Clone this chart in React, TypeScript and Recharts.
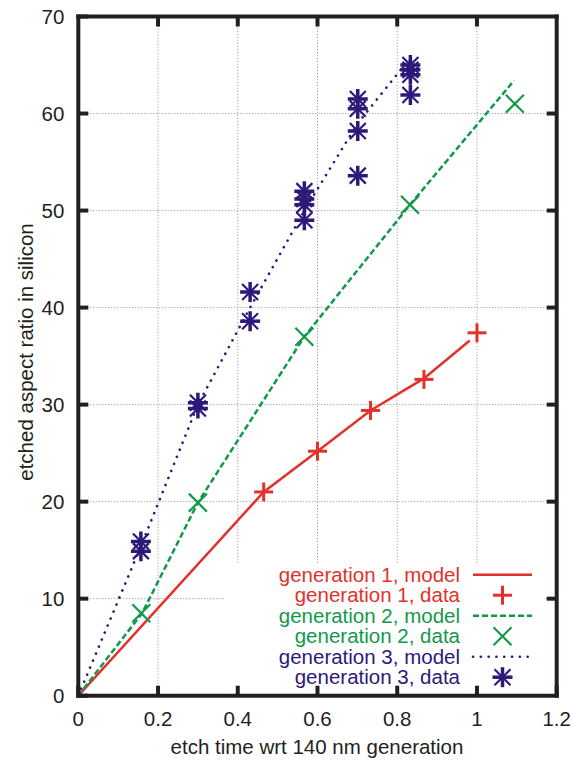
import React from 'react';
import { ComposedChart, Line, Scatter, XAxis, YAxis, ReferenceLine } from 'recharts';

const RED = '#e2312a';
const GREEN = '#11994a';
const BLUE = '#2d1979';
const INK = '#231f20';
const FONT = '"Liberation Sans", Arial, sans-serif';
const FS = 20.5;

const xTicks = [0, 0.2, 0.4, 0.6, 0.8, 1, 1.2];
const yTicks = [0, 10, 20, 30, 40, 50, 60, 70];
const gridX = [0.2, 0.4, 0.6, 0.8, 1];
const gridY = [10, 20, 30, 40, 50, 60];

// key box (in data units) hides the grid behind it
const keyLeft = 0.369;
const keyRight = 1.172;
const keyTop = 13.7;

const gen1Model = [
  { x: 0, y: 0 },
  { x: 0.465, y: 21 },
  { x: 0.6, y: 25.2 },
  { x: 0.733, y: 29.4 },
  { x: 0.867, y: 32.7 },
  { x: 0.982, y: 36.6 },
];
const gen1Data = [
  { x: 0.465, y: 21 },
  { x: 0.6, y: 25.2 },
  { x: 0.733, y: 29.4 },
  { x: 0.867, y: 32.6 },
  { x: 1.0, y: 37.4 },
];
const gen2Model = [
  { x: 0, y: 0 },
  { x: 0.16, y: 8.5 },
  { x: 0.3, y: 19.9 },
  { x: 0.567, y: 37 },
  { x: 0.832, y: 50.6 },
  { x: 1.093, y: 63.4 },
];
const gen2Data = [
  { x: 0.158, y: 8.5 },
  { x: 0.3, y: 19.9 },
  { x: 0.567, y: 37 },
  { x: 0.832, y: 50.6 },
  { x: 1.095, y: 61.0 },
];
const gen3Model = [
  { x: 0, y: 0 },
  { x: 0.157, y: 15.4 },
  { x: 0.3, y: 30 },
  { x: 0.431, y: 40 },
  { x: 0.567, y: 50 },
  { x: 0.701, y: 59 },
  { x: 0.83, y: 65.6 },
];
const gen3Data = [
  { x: 0.157, y: 15.9 },
  { x: 0.157, y: 14.9 },
  { x: 0.3, y: 30.2 },
  { x: 0.3, y: 29.6 },
  { x: 0.431, y: 41.6 },
  { x: 0.431, y: 38.6 },
  { x: 0.567, y: 52.0 },
  { x: 0.567, y: 51.2 },
  { x: 0.567, y: 50.6 },
  { x: 0.567, y: 49.0 },
  { x: 0.701, y: 61.5 },
  { x: 0.701, y: 60.5 },
  { x: 0.701, y: 58.2 },
  { x: 0.701, y: 53.6 },
  { x: 0.833, y: 65.0 },
  { x: 0.833, y: 64.5 },
  { x: 0.833, y: 64.0 },
  { x: 0.833, y: 61.9 },
];

const legendRows = [
  { label: 'generation 1, model', color: RED, kind: 'solid' },
  { label: 'generation 1, data', color: RED, kind: 'plus' },
  { label: 'generation 2, model', color: GREEN, kind: 'dash' },
  { label: 'generation 2, data', color: GREEN, kind: 'cross' },
  { label: 'generation 3, model', color: BLUE, kind: 'dot' },
  { label: 'generation 3, data', color: BLUE, kind: 'star' },
];

const PlusMark = ({ cx, cy }: any) => (
  <g stroke={RED} strokeWidth={3}>
    <line x1={cx - 9.5} x2={cx + 9.5} y1={cy} y2={cy} />
    <line x1={cx} x2={cx} y1={cy - 9.5} y2={cy + 9.5} />
  </g>
);

const CrossMark = ({ cx, cy }: any) => (
  <g stroke={GREEN} strokeWidth={2.2}>
    <line x1={cx - 9} x2={cx + 9} y1={cy - 9} y2={cy + 9} />
    <line x1={cx - 9} x2={cx + 9} y1={cy + 9} y2={cy - 9} />
  </g>
);

const StarMark = ({ cx, cy }: any) => (
  <g stroke={BLUE}>
    <line x1={cx - 10} x2={cx + 10} y1={cy} y2={cy} strokeWidth={3.5} />
    <line x1={cx} x2={cx} y1={cy - 10} y2={cy + 10} strokeWidth={3.5} />
    <line x1={cx - 8} x2={cx + 8} y1={cy - 8} y2={cy + 8} strokeWidth={2.2} />
    <line x1={cx - 8} x2={cx + 8} y1={cy + 8} y2={cy - 8} strokeWidth={2.2} />
  </g>
);

const fmt = (v: number) => String(Math.round(v * 10) / 10);

const BottomTick = ({ x, y, payload }: any) => (
  <g>
    <line x1={x} x2={x} y1={y} y2={y - 10} stroke={INK} strokeWidth={4} />
    <text x={x} y={y + 30} textAnchor="middle" fontSize={FS} fill={INK} fontFamily={FONT}>
      {fmt(payload.value)}
    </text>
  </g>
);

const LeftTick = ({ x, y, payload }: any) => (
  <g>
    <line x1={x} x2={x + 10} y1={y} y2={y} stroke={INK} strokeWidth={4} />
    <text x={x - 14} y={y + 7} textAnchor="end" fontSize={FS} fill={INK} fontFamily={FONT}>
      {fmt(payload.value)}
    </text>
  </g>
);

const TopTick = ({ x, y }: any) => (
  <line x1={x} x2={x} y1={y} y2={y + 10} stroke={INK} strokeWidth={4} />
);

const RightTick = ({ x, y }: any) => (
  <line x1={x} x2={x - 10} y1={y} y2={y} stroke={INK} strokeWidth={4} />
);

const gridStyle = { stroke: '#8c8c8c', strokeWidth: 1, strokeDasharray: '1 2' };

const gridSegments = () => {
  const segs: any[] = [];
  gridX.forEach((gx) => {
    const y0 = gx > keyLeft && gx < keyRight ? keyTop : 0;
    segs.push([{ x: gx, y: y0 }, { x: gx, y: 70 }]);
  });
  gridY.forEach((gy) => {
    if (gy < keyTop) {
      segs.push([{ x: 0, y: gy }, { x: keyLeft, y: gy }]);
      segs.push([{ x: keyRight, y: gy }, { x: 1.2, y: gy }]);
    } else {
      segs.push([{ x: 0, y: gy }, { x: 1.2, y: gy }]);
    }
  });
  return segs;
};

const axisLine = { stroke: INK, strokeWidth: 4, strokeLinecap: 'square' as const };

const LegendSample = ({ kind, color, y }: any) => {
  const x1 = 473;
  const x2 = 532;
  const cx = 502.5;
  if (kind === 'solid') return <line x1={x1} x2={x2} y1={y} y2={y} stroke={color} strokeWidth={2.5} />;
  if (kind === 'dash')
    return <line x1={x1} x2={x2} y1={y} y2={y} stroke={color} strokeWidth={2.5} strokeDasharray="6 3" />;
  if (kind === 'dot')
    return (
      <line x1={x1} x2={x2} y1={y} y2={y} stroke={color} strokeWidth={2.6} strokeDasharray="0.1 7.7" strokeLinecap="round" />
    );
  if (kind === 'plus') return <PlusMark cx={cx} cy={y} />;
  if (kind === 'cross') return <CrossMark cx={cx} cy={y} />;
  return <StarMark cx={cx} cy={y} />;
};

export default function App() {
  return (
    <div style={{ position: 'absolute', left: 0, top: 0, width: 572, height: 762, fontFamily: FONT, background: '#fff' }}>
      <ComposedChart
        width={572}
        height={762}
        margin={{ top: 6.5, right: 5.3, bottom: 16.3, left: 18.3 }}
      >
        <XAxis
          dataKey="x"
          type="number"
          domain={[0, 1.2]}
          ticks={xTicks}
          allowDataOverflow
          height={50}
          tickSize={0}
          tickMargin={0}
          tickLine={false}
          axisLine={axisLine}
          tick={BottomTick}
          interval={0}
        />
        <XAxis
          xAxisId="top"
          orientation="top"
          dataKey="x"
          type="number"
          domain={[0, 1.2]}
          ticks={xTicks.slice(1, -1)}
          allowDataOverflow
          height={10}
          tickSize={0}
          tickMargin={0}
          tickLine={false}
          axisLine={axisLine}
          tick={TopTick}
          interval={0}
        />
        <YAxis
          type="number"
          domain={[0, 70]}
          ticks={yTicks}
          allowDataOverflow
          width={60}
          tickSize={0}
          tickMargin={0}
          tickLine={false}
          axisLine={axisLine}
          tick={LeftTick}
          interval={0}
        />
        <YAxis
          yAxisId="right"
          orientation="right"
          type="number"
          domain={[0, 70]}
          ticks={yTicks.slice(1, -1)}
          allowDataOverflow
          width={10}
          tickSize={0}
          tickMargin={0}
          tickLine={false}
          axisLine={axisLine}
          tick={RightTick}
          interval={0}
        />
        {gridSegments().map((seg, i) => (
          <ReferenceLine key={`g${i}`} segment={seg} {...gridStyle} ifOverflow="visible" />
        ))}
        <Line
          data={gen1Model}
          dataKey="y"
          type="linear"
          stroke={RED}
          strokeWidth={2.5}
          dot={false}
          activeDot={false}
          isAnimationActive={false}
        />
        <Line
          data={gen2Model}
          dataKey="y"
          type="linear"
          stroke={GREEN}
          strokeWidth={2.5}
          strokeDasharray="6 3"
          dot={false}
          activeDot={false}
          isAnimationActive={false}
        />
        <Line
          data={gen3Model}
          dataKey="y"
          type="linear"
          stroke={BLUE}
          strokeWidth={2.6}
          strokeDasharray="0.1 7.5"
          strokeLinecap="round"
          dot={false}
          activeDot={false}
          isAnimationActive={false}
        />
        <Scatter data={gen1Data} dataKey="y" shape={PlusMark} isAnimationActive={false} />
        <Scatter data={gen2Data} dataKey="y" shape={CrossMark} isAnimationActive={false} />
        <Scatter data={gen3Data} dataKey="y" shape={StarMark} isAnimationActive={false} />
      </ComposedChart>
      <svg
        width={572}
        height={762}
        style={{ position: 'absolute', left: 0, top: 0, pointerEvents: 'none' }}
      >
        {legendRows.map((r, i) => {
          const cy = 574.7 + i * 20.5;
          return (
            <g key={r.label}>
              <text x={460} y={cy + 7} textAnchor="end" fontSize={FS} fill={r.color} fontFamily={FONT}>
                {r.label}
              </text>
              <LegendSample kind={r.kind} color={r.color} y={cy} />
            </g>
          );
        })}
        <text x={317} y={754} textAnchor="middle" fontSize={FS} fill={INK} fontFamily={FONT}>
          etch time wrt 140 nm generation
        </text>
        <text
          x={33}
          y={352}
          textAnchor="middle"
          fontSize={FS}
          fill={INK}
          fontFamily={FONT}
          transform="rotate(-90 33 352)"
        >
          etched aspect ratio in silicon
        </text>
      </svg>
    </div>
  );
}
